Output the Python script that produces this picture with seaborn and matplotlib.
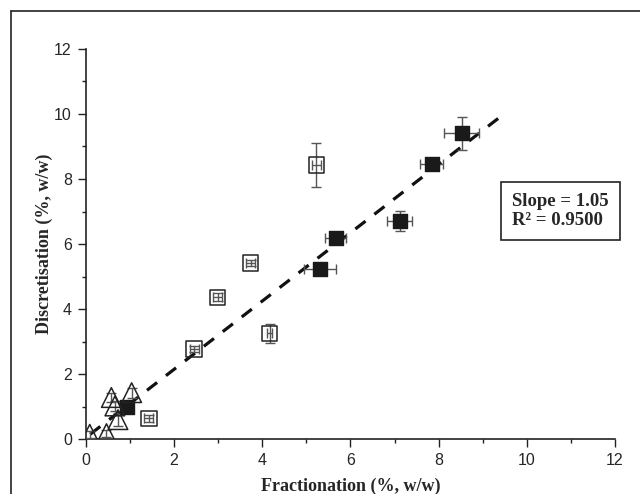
import numpy as np
import pandas as pd
import matplotlib
matplotlib.use("Agg")
import matplotlib.pyplot as plt
from matplotlib.lines import Line2D
import seaborn as sns

# filled squares
filled_x = [8.52, 7.84, 7.12, 5.67, 5.31, 0.94]
filled_y = [9.41, 8.45, 6.71, 6.19, 5.22, 0.98]
filled_xerr = [0.40, 0.26, 0.28, 0.24, 0.37, 0.08]
filled_yerr = [0.51, 0.10, 0.32, 0.10, 0.08, 0.08]

# open squares
open_x = [5.23, 3.74, 2.99, 4.17, 2.46, 1.43]
open_y = [8.43, 5.41, 4.36, 3.25, 2.77, 0.64]
open_xerr = [0.10, 0.10, 0.10, 0.05, 0.10, 0.10]
open_yerr = [0.67, 0.10, 0.12, 0.29, 0.10, 0.10]

# open triangles
tri_x = [0.58, 1.04, 0.66, 0.73, 0.09, 0.47]
tri_y = [1.28, 1.43, 1.02, 0.60, 0.15, 0.17]
tri_yerr = [0.15, 0.15, 0.15, 0.20, 0.10, 0.10]

# fitted line end points
fit_x = [0.10, 9.52]
fit_y = [0.15, 10.04]
slope_text = "Slope = 1.05"
r2_text = "R\u00b2 = 0.9500"

sns.set_style("ticks")
plt.rcParams["font.family"] = ["Liberation Sans", "DejaVu Sans"]

fig = plt.figure(figsize=(6.4, 4.94), dpi=100)
ax = fig.add_axes([0.134, 0.111, 0.827, 0.79])

# frame of the figure (left and top edges only visible)
fig.add_artist(Line2D([11 / 640, 11 / 640], [0, 1 - 11 / 494], transform=fig.transFigure,
                      color="#222222", lw=1.2))
fig.add_artist(Line2D([11 / 640, 1], [1 - 11 / 494, 1 - 11 / 494], transform=fig.transFigure,
                      color="#222222", lw=1.2))

ax.plot(fit_x, fit_y, ls=(0, (4, 3.5)), color="#111111", lw=2.3, zorder=2)

err_kw = dict(fmt="none", ecolor="#555555", elinewidth=1.0, capsize=3.5, capthick=1.0, zorder=3)
ax.errorbar(filled_x, filled_y, xerr=filled_xerr, yerr=filled_yerr, **err_kw)
ax.errorbar(open_x, open_y, xerr=open_xerr, yerr=open_yerr, **err_kw)
ax.errorbar(tri_x, tri_y, yerr=tri_yerr, **err_kw)

df_f = pd.DataFrame({"x": filled_x, "y": filled_y})
df_o = pd.DataFrame({"x": open_x, "y": open_y})
df_t = pd.DataFrame({"x": tri_x, "y": tri_y})
sns.scatterplot(data=df_f, x="x", y="y", marker="s", s=105, color="#1a1a1a",
                edgecolor="#1a1a1a", linewidth=1, ax=ax, zorder=4)
sns.scatterplot(data=df_o, x="x", y="y", marker="s", s=125, facecolor="none",
                edgecolor="#222222", linewidth=1.1, ax=ax, zorder=4)
sns.scatterplot(data=df_t, x="x", y="y", marker="^", s=200, facecolor="none",
                edgecolor="#222222", linewidth=1.1, ax=ax, zorder=4)

ax.set_xlim(0, 12)
ax.set_ylim(0, 12)
ax.set_xticks(np.arange(0, 13, 2))
ax.set_yticks(np.arange(0, 13, 2))
ax.set_xticks(np.arange(1, 12, 2), minor=True)
ax.set_yticks(np.arange(1, 12, 2), minor=True)
ax.tick_params(which="major", direction="out", length=6, width=1, labelsize=11.5, pad=4, color="#222222")
ax.tick_params(which="minor", direction="out", length=3, width=1, color="#222222")
for side in ["top", "right"]:
    ax.spines[side].set_visible(False)
for side in ["left", "bottom"]:
    ax.spines[side].set_linewidth(1.2)
    ax.spines[side].set_color("#222222")

lab_font = dict(family="Liberation Serif", weight="bold", size=13)
ax.set_xlabel("Fractionation (%, w/w)", labelpad=7, **lab_font)
ax.set_ylabel("Discretisation (%, w/w)", labelpad=1, **lab_font)

ax.text(0.897, 0.585, slope_text + "\n" + r2_text, transform=ax.transAxes,
        ha="center", va="center", multialignment="left",
        family="Liberation Serif", weight="bold", size=13.5,
        linespacing=1.15, clip_on=False,
        bbox=dict(boxstyle="square,pad=0.6", facecolor="white", edgecolor="#222222", lw=1.2))

fig.savefig("out.png", dpi=100)
